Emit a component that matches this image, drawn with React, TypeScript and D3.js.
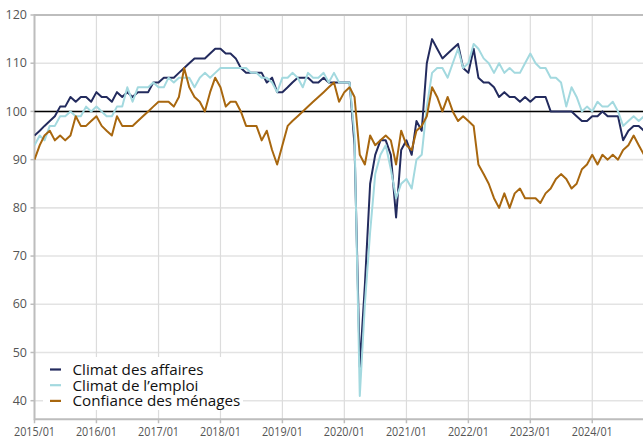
import React from 'react';
import * as d3 from 'd3';

// monthly indicators, 2015/01 -> 2024/11
const START = new Date(2015, 0, 1);
const END = new Date(2024, 10, 1);
const months = d3.timeMonth.range(START, d3.timeMonth.offset(END, 1));

const climatAffaires = [
  95, 96, 97, 98, 99, 101, 101, 103, 102, 103, 103, 102,
  104, 103, 103, 102, 104, 103, 104, 103, 104, 104, 104, 106,
  106, 107, 107, 107, 108, 109, 110, 111, 111, 111, 112, 113,
  113, 112, 112, 111, 109, 108, 108, 108, 108, 106, 107, 104,
  104, 105, 106, 107, 107, 107, 106, 106, 107, 106, 106, 106,
  106, 106, 93, 47, 64, 85, 91, 94, 94, 91, 78, 92,
  94, 91, 98, 96, 110, 115, 113, 111, 112, 113, 114, 109,
  108, 113, 107, 106, 106, 105, 103, 104, 103, 103, 102, 103,
  102, 103, 103, 103, 100, 100, 100, 100, 100, 99, 98, 98,
  99, 99, 100, 99, 99, 99, 94, 96, 97, 97, 96,
];

const climatEmploi = [
  93, 95, 94, 97, 97, 99, 99, 100, 99, 99, 101, 100,
  101, 100, 99, 99, 101, 101, 105, 102, 105, 105, 105, 106,
  105, 105, 107, 106, 107, 107, 107, 105, 107, 108, 107, 108,
  109, 109, 109, 109, 109, 109, 108, 108, 107, 107, 106, 104,
  107, 107, 108, 107, 105, 108, 107, 107, 108, 106, 108, 106,
  106, 106, 95, 41, 60, 75, 87, 91, 93, 88, 82, 85,
  86, 84, 90, 91, 101, 108, 109, 109, 107, 110, 113, 109,
  110, 114, 113, 111, 110, 108, 110, 108, 109, 108, 108, 110,
  112, 110, 109, 109, 107, 107, 106, 101, 105, 103, 100, 101,
  100, 102, 101, 101, 102, 100, 97, 98, 99, 98, 99,
];

const confianceMenages = [
  90, 93, 95, 96, 94, 95, 94, 95, 99, 97, 97, 98,
  99, 97, 96, 95, 99, 97, 97, 97, 98, 99, 100, 101,
  102, 102, 102, 101, 103, 109, 105, 103, 102, 100, 104, 107,
  105, 101, 102, 102, 100, 97, 97, 97, 94, 96, 92, 89,
  93, 97, 98, 99, 100, 101, 102, 103, 104, 105, 106, 102,
  104, 105, 103, 91, 89, 95, 93, 94, 95, 94, 89, 96,
  93, 92, 96, 97, 99, 105, 103, 100, 103, 100, 98, 99,
  98, 97, 89, 87, 85, 82, 80, 83, 80, 83, 84, 82,
  82, 82, 81, 83, 84, 86, 87, 86, 84, 85, 88, 89,
  91, 89, 91, 90, 91, 90, 92, 93, 95, 93, 91,
];

const seriesNames = ['Climat des affaires', 'Climat de l’emploi', 'Confiance des ménages'];
const seriesColors = ['#232b5e', '#a3d9df', '#a8670f'];
const yTicks = [40, 50, 60, 70, 80, 90, 100, 110, 120];
const xTickLabels = [
  '2015/01', '2016/01', '2017/01', '2018/01', '2019/01',
  '2020/01', '2021/01', '2022/01', '2023/01', '2024/01',
];

const W = 643;
const H = 441;
const FONT = "'Open Sans', 'Noto Sans', sans-serif";

export default function App() {
  const x = d3.scaleTime().domain([START, END]).range([34.5, 644]);
  const y = d3.scaleLinear().domain([40, 120]).range([400.7, 15]);
  const left = 34.5;
  const right = W;
  const top = y(120);
  const bottom = y(36.15);

  const xTicks = xTickLabels.map((_, i) => new Date(2015 + i, 0, 1));
  const allSeries = [climatAffaires, climatEmploi, confianceMenages];

  const line = d3
    .line<number>()
    .x((_, i) => x(months[i]))
    .y((d) => y(d));

  return (
    <svg
      width={W}
      height={H}
      style={{ position: 'absolute', left: 0, top: 0, background: '#fff' }}
      fontFamily={FONT}
    >
      <defs>
        <clipPath id="plot">
          <rect x={left} y={top - 2} width={right - left} height={bottom - top + 2} />
        </clipPath>
      </defs>

      {/* grid */}
      {yTicks.map((t) => (
        <line key={'gy' + t} x1={left} x2={right} y1={y(t)} y2={y(t)} stroke="#e3e3e3" strokeWidth={1.6} />
      ))}
      {xTicks.map((d, i) => (
        <line key={'gx' + i} x1={x(d)} x2={x(d)} y1={top} y2={bottom} stroke="#dcdcdc" strokeWidth={1.2} />
      ))}

      {/* axes */}
      <line x1={left} x2={right} y1={top} y2={top} stroke="#bdbdbd" strokeWidth={2} />
      <line x1={left} x2={right} y1={bottom} y2={bottom} stroke="#bdbdbd" strokeWidth={2} />
      <line x1={left} x2={left} y1={top - 1} y2={bottom + 1} stroke="#bdbdbd" strokeWidth={2} />

      {yTicks.map((t) => (
        <g key={'ty' + t}>
          <line x1={left - 4} x2={left} y1={y(t)} y2={y(t)} stroke="#bdbdbd" strokeWidth={1.5} />
          <text x={27} y={y(t)} dy="0.33em" textAnchor="end" fontSize={12.5} fill="#555">
            {t}
          </text>
        </g>
      ))}
      {xTicks.map((d, i) => (
        <g key={'tx' + i}>
          <line x1={x(d)} x2={x(d)} y1={bottom} y2={bottom + 4} stroke="#bdbdbd" strokeWidth={1.5} />
          <text
            x={x(d)}
            y={436}
            textAnchor="middle"
            fontSize={13.5}
            fill="#555"
            textLength={41}
            lengthAdjust="spacingAndGlyphs"
          >
            {xTickLabels[i]}
          </text>
        </g>
      ))}

      {/* reference line at 100 */}
      <line x1={left} x2={right} y1={y(100)} y2={y(100)} stroke="#000" strokeWidth={1.5} />

      <g clipPath="url(#plot)">
        {allSeries.map((s, i) => (
          <path
            key={seriesNames[i]}
            d={line(s) || ''}
            fill="none"
            stroke={seriesColors[i]}
            strokeWidth={2}
            strokeLinejoin="round"
          />
        ))}
      </g>

      {/* legend */}
      <g>
        <rect x={43} y={357} width={200} height={53} fill="#fff" />
        {seriesNames.map((n, i) => {
          const ly = 369.5 + i * 15.7;
          return (
            <g key={'lg' + i}>
              <line x1={50} x2={61} y1={ly} y2={ly} stroke={seriesColors[i]} strokeWidth={2.2} />
              <text x={72.5} y={ly} dy="0.36em" fontSize={15.2} fill="#111">
                {n}
              </text>
            </g>
          );
        })}
      </g>
    </svg>
  );
}
